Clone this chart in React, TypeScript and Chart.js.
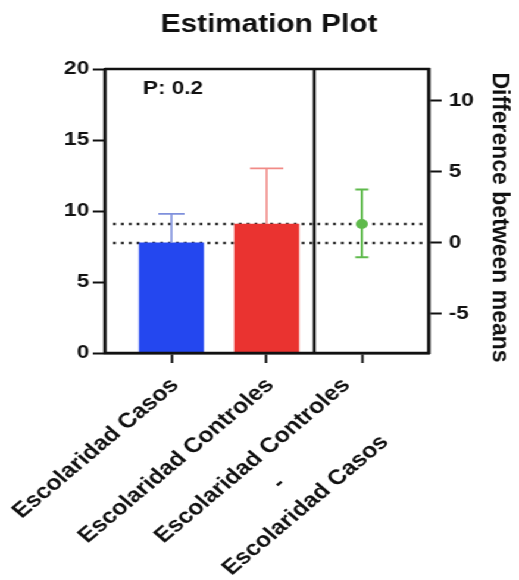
import { useEffect, useRef } from 'react';
import { Chart, registerables } from 'chart.js';

Chart.register(...registerables);

// ---- data ----
const categories: string[][] = [
  ['Escolaridad Casos'],
  ['Escolaridad Controles'],
  ['Escolaridad Controles', '-', 'Escolaridad Casos'],
];
const groupMeans = [7.75, 9.08];
const groupErrTop = [9.8, 13.0];
const diffMean = [1.33];
const diffLow = [-1.0];
const diffHigh = [3.76];
const leftTicks = [0, 5, 10, 15, 20];
const rightTicks = [-5, 0, 5, 10];
const leftMax = 20;
const pValue = 0.2;
const titleText = 'Estimation Plot';
const rightTitle = 'Difference between means';

// ---- styles / layout ----
const W = 436;
const H = 580;
const SX = 519 / W;
const FONT = '"Liberation Sans", Arial, Helvetica, sans-serif';
const groupColors = ['#2447ef', '#ea3330'];
const errColors = ['#7f90dc', '#f18b87'];
const capHalf = [11, 14];
const diffColor = '#5fba4c';

export default function App() {
  const ref = useRef<HTMLCanvasElement>(null);

  useEffect(() => {
    const canvas = ref.current!;
    const overlay = {
      id: 'overlay',
      beforeDatasetsDraw(chart: any) {
        const { ctx, chartArea: a, scales } = chart;
        const y = scales.y;
        const x = scales.x;
        const y2 = scales.y2;
        ctx.save();
        // dotted reference lines at group means
        ctx.strokeStyle = '#2a2a2a';
        ctx.lineWidth = 2.6;
        ctx.setLineDash([2.4, 4.2]);
        groupMeans.forEach((m) => {
          const py = y.getPixelForValue(m);
          ctx.beginPath();
          ctx.moveTo(a.left + 7, py);
          ctx.lineTo(a.right, py);
          ctx.stroke();
        });
        ctx.setLineDash([]);
        // difference CI
        diffMean.forEach((_, k) => {
          const px = x.getPixelForValue(groupMeans.length + k);
          const t = y2.getPixelForValue(diffHigh[k]);
          const b = y2.getPixelForValue(diffLow[k]);
          ctx.strokeStyle = diffColor;
          ctx.lineWidth = 2;
          ctx.beginPath();
          ctx.moveTo(px, b);
          ctx.lineTo(px, t);
          ctx.moveTo(px - 5.5, t);
          ctx.lineTo(px + 5.5, t);
          ctx.moveTo(px - 5.5, b);
          ctx.lineTo(px + 5.5, b);
          ctx.stroke();
        });
        ctx.restore();
      },
      afterDatasetsDraw(chart: any) {
        const { ctx, chartArea: a, scales } = chart;
        const y = scales.y;
        const x = scales.x;
        ctx.save();
        // error bars (upper)
        groupMeans.forEach((m, i) => {
          const px = x.getPixelForValue(i);
          const base = y.getPixelForValue(m);
          const top = y.getPixelForValue(groupErrTop[i]);
          ctx.strokeStyle = errColors[i];
          ctx.lineWidth = 1.6;
          ctx.beginPath();
          ctx.moveTo(px, base);
          ctx.lineTo(px, top);
          ctx.moveTo(px - capHalf[i], top);
          ctx.lineTo(px + capHalf[i], top);
          ctx.stroke();
        });
        // frame and divider
        ctx.strokeStyle = '#111';
        ctx.lineWidth = 2.5;
        ctx.beginPath();
        ctx.moveTo(a.left, a.top);
        ctx.lineTo(a.right, a.top);
        ctx.lineTo(a.right, a.bottom);
        ctx.lineTo(a.left, a.bottom);
        ctx.lineTo(a.left, a.top);
        const dx = x.getPixelForValue(groupMeans.length - 0.5);
        ctx.moveTo(dx, a.top);
        ctx.lineTo(dx, a.bottom);
        ctx.stroke();
        ctx.restore();
      },
      afterDraw(chart: any) {
        const { ctx, chartArea: a, scales } = chart;
        const x = scales.x;
        ctx.save();
        ctx.fillStyle = '#111';
        // title
        ctx.font = `bold 25px ${FONT}`;
        ctx.textAlign = 'center';
        ctx.textBaseline = 'alphabetic';
        ctx.fillText(titleText, (a.left + a.right) / 2 + 2, 32);
        // P value
        ctx.font = `bold 19px ${FONT}`;
        ctx.textAlign = 'left';
        ctx.fillText(`P: ${pValue}`, a.left + 32, 94);
        // right axis title (not stretched)
        ctx.save();
        ctx.font = `bold 23px ${FONT}`;
        ctx.translate(414, (a.top + a.bottom) / 2 + 6.5);
        ctx.scale(1 / SX, 1);
        ctx.rotate(Math.PI / 2);
        ctx.textAlign = 'center';
        ctx.textBaseline = 'alphabetic';
        ctx.fillText(rightTitle, 0, 0);
        ctx.restore();
        // category labels, rotated 45°
        ctx.font = `bold 21px ${FONT}`;
        const lh = 31.5;
        categories.forEach((lines, i) => {
          const tx = x.getPixelForValue(i);
          const n = lines.length;
          const maxW = Math.max(...lines.map((t) => ctx.measureText(t).width));
          ctx.save();
          ctx.translate(tx + 3 - (n - 1) * 8, a.bottom + 29);
          ctx.rotate(-Math.PI / 4);
          ctx.textAlign = 'center';
          ctx.textBaseline = 'middle';
          lines.forEach((t, k) => ctx.fillText(t, -maxW / 2, k * lh));
          ctx.restore();
        });
        ctx.restore();
      },
    };

    const tickFont = { family: FONT, size: 19, weight: 'bold' as const };

    const chart = new Chart(canvas, {
      type: 'bar',
      data: {
        datasets: [
          {
            type: 'bar',
            data: groupMeans.map((v, i) => ({ x: i, y: v })),
            backgroundColor: groupColors,
            borderWidth: 0,
            barThickness: 54,
            xAxisID: 'x',
            yAxisID: 'y',
          } as any,
          {
            type: 'scatter',
            data: diffMean.map((v, k) => ({ x: groupMeans.length + k, y: v })),
            backgroundColor: diffColor,
            borderColor: diffColor,
            pointRadius: 5,
            borderWidth: 0,
            xAxisID: 'x',
            yAxisID: 'y2',
          } as any,
        ],
      },
      options: {
        responsive: false,
        maintainAspectRatio: false,
        animation: false,
        devicePixelRatio: 1,
        layout: { padding: { top: 69, left: 0, right: 0, bottom: 0 } },
        plugins: {
          legend: { display: false },
          tooltip: { enabled: false },
          title: { display: false },
        },
        scales: {
          x: {
            type: 'linear',
            position: 'bottom',
            offset: false,
            min: -0.7,
            max: categories.length - 0.3,
            afterBuildTicks: (s: any) => {
              s.ticks = categories.map((_, i) => ({ value: i }));
            },
            afterFit: (s: any) => {
              s.height = H - 353;
            },
            ticks: { callback: () => '', autoSkip: false },
            grid: {
              display: true,
              offset: false,
              drawOnChartArea: false,
              drawTicks: true,
              tickLength: 10,
              tickWidth: 2,
              tickColor: '#111',
              color: '#111',
            },
            border: { display: true, color: '#111', width: 2.5 },
          },
          y: {
            type: 'linear',
            position: 'left',
            min: 0,
            max: leftMax,
            afterBuildTicks: (s: any) => {
              s.ticks = leftTicks.map((v) => ({ value: v }));
            },
            afterFit: (s: any) => {
              s.width = 88;
            },
            ticks: { font: tickFont, color: '#111', padding: 3 },
            grid: {
              display: true,
              drawOnChartArea: false,
              tickLength: 10,
              tickWidth: 2,
              tickColor: '#111',
            },
            border: { display: true, color: '#111', width: 2.5 },
          },
          y2: {
            type: 'linear',
            position: 'right',
            min: -groupMeans[0],
            max: leftMax - groupMeans[0],
            afterBuildTicks: (s: any) => {
              s.ticks = rightTicks.map((v) => ({ value: v }));
            },
            afterFit: (s: any) => {
              s.width = W - 360;
            },
            ticks: { font: tickFont, color: '#111', padding: 6 },
            grid: {
              display: true,
              drawOnChartArea: false,
              tickLength: 11,
              tickWidth: 2,
              tickColor: '#111',
            },
            border: { display: true, color: '#111', width: 2.5 },
          },
        },
      } as any,
      plugins: [overlay],
    });
    return () => chart.destroy();
  }, []);

  return (
    <div
      style={{
        position: 'fixed',
        left: 0,
        top: 0,
        width: W,
        height: H,
        background: '#fff',
        transform: `scaleX(${SX})`,
        transformOrigin: '0 0',
      }}
    >
      <canvas ref={ref} width={W} height={H} style={{ display: 'block', width: W, height: H }} />
    </div>
  );
}
